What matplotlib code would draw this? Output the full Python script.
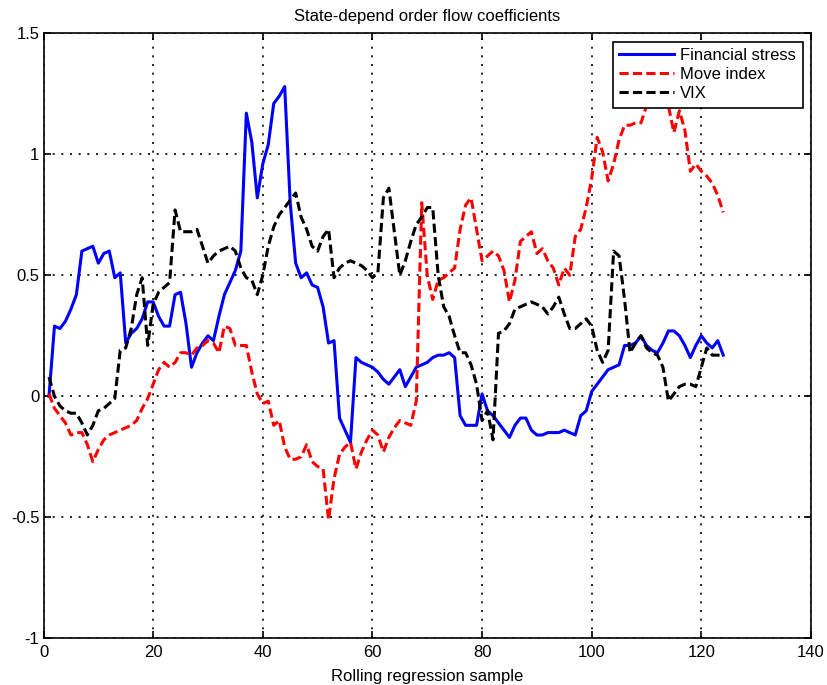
import matplotlib.pyplot as plt
import numpy as np

plt.switch_backend('Agg')
plt.rcParams['font.family'] = ['Liberation Sans', 'DejaVu Sans']

# Rolling regression sample index
sample = np.arange(1, 125)

financial_stress = [
    0.00, 0.29, 0.28, 0.31, 0.36, 0.42, 0.60, 0.61, 0.62, 0.55,
    0.59, 0.60, 0.49, 0.51, 0.22, 0.26, 0.28, 0.32, 0.39, 0.39,
    0.33, 0.29, 0.29, 0.42, 0.43, 0.30, 0.12, 0.18, 0.22, 0.25,
    0.23, 0.33, 0.42, 0.47, 0.52, 0.60, 1.17, 1.05, 0.82, 0.96,
    1.04, 1.21, 1.24, 1.28, 0.80, 0.55, 0.49, 0.51, 0.46, 0.45,
    0.37, 0.22, 0.23, -0.09, -0.14, -0.19, 0.16, 0.14, 0.13, 0.12,
    0.10, 0.07, 0.05, 0.08, 0.11, 0.04, 0.08, 0.12, 0.13, 0.14,
    0.16, 0.17, 0.17, 0.18, 0.16, -0.08, -0.12, -0.12, -0.12, 0.01,
    -0.06, -0.08, -0.11, -0.14, -0.17, -0.12, -0.09, -0.09, -0.14, -0.16,
    -0.16, -0.15, -0.15, -0.15, -0.14, -0.15, -0.16, -0.08, -0.06, 0.02,
    0.05, 0.08, 0.11, 0.12, 0.13, 0.21, 0.21, 0.22, 0.25, 0.21,
    0.19, 0.18, 0.22, 0.27, 0.27, 0.25, 0.21, 0.16, 0.21, 0.25,
    0.22, 0.20, 0.23, 0.17,
]

move_index = [
    0.01, -0.05, -0.08, -0.11, -0.16, -0.15, -0.15, -0.20, -0.27, -0.22,
    -0.18, -0.16, -0.15, -0.14, -0.13, -0.12, -0.10, -0.05, -0.01, 0.05,
    0.11, 0.14, 0.12, 0.14, 0.18, 0.18, 0.17, 0.20, 0.21, 0.23,
    0.22, 0.18, 0.29, 0.28, 0.21, 0.21, 0.21, 0.10, 0.01, -0.03,
    -0.02, -0.12, -0.10, -0.21, -0.26, -0.26, -0.25, -0.20, -0.27, -0.29,
    -0.30, -0.51, -0.34, -0.24, -0.21, -0.19, -0.30, -0.23, -0.18, -0.14,
    -0.16, -0.23, -0.17, -0.13, -0.10, -0.11, -0.12, -0.02, 0.80, 0.50,
    0.40, 0.48, 0.49, 0.51, 0.53, 0.69, 0.79, 0.82, 0.69, 0.56,
    0.58, 0.60, 0.58, 0.52, 0.39, 0.48, 0.64, 0.66, 0.68, 0.59,
    0.61, 0.56, 0.53, 0.46, 0.53, 0.50, 0.66, 0.69, 0.78, 0.90,
    1.07, 1.01, 0.89, 0.96, 1.06, 1.12, 1.12, 1.13, 1.13, 1.20,
    1.23, 1.25, 1.24, 1.20, 1.09, 1.18, 1.10, 0.93, 0.96, 0.93,
    0.91, 0.88, 0.83, 0.76,
]

vix = [
    0.08, 0.00, -0.04, -0.06, -0.07, -0.07, -0.11, -0.16, -0.12, -0.06,
    -0.05, -0.03, -0.01, 0.19, 0.20, 0.28, 0.42, 0.49, 0.21, 0.38,
    0.43, 0.45, 0.47, 0.77, 0.68, 0.68, 0.68, 0.69, 0.62, 0.55,
    0.58, 0.60, 0.61, 0.62, 0.60, 0.53, 0.49, 0.48, 0.42, 0.50,
    0.62, 0.70, 0.75, 0.78, 0.81, 0.84, 0.74, 0.69, 0.62, 0.60,
    0.66, 0.69, 0.49, 0.53, 0.55, 0.56, 0.55, 0.54, 0.52, 0.49,
    0.51, 0.82, 0.86, 0.68, 0.50, 0.56, 0.64, 0.71, 0.74, 0.78,
    0.78, 0.50, 0.37, 0.33, 0.25, 0.18, 0.18, 0.13, 0.05, -0.10,
    -0.06, -0.18, 0.26, 0.27, 0.30, 0.36, 0.37, 0.38, 0.39, 0.38,
    0.37, 0.34, 0.37, 0.41, 0.34, 0.28, 0.28, 0.30, 0.32, 0.29,
    0.19, 0.14, 0.19, 0.60, 0.58, 0.40, 0.18, 0.22, 0.25, 0.20,
    0.18, 0.17, 0.12, -0.02, 0.01, 0.04, 0.05, 0.05, 0.04, 0.12,
    0.20, 0.17, 0.17, 0.17,
]

x_ticks = [0, 20, 40, 60, 80, 100, 120, 140]
y_ticks = [-1, -0.5, 0, 0.5, 1, 1.5]
y_tick_labels = ['-1', '-0.5', '0', '0.5', '1', '1.5']

fig = plt.figure(figsize=(8.27, 6.85), dpi=100)
ax = fig.add_axes([0.0526, 0.0682, 0.928, 0.8832])

ax.plot(sample, financial_stress, '-', color='#0000ff', lw=2.2, label='Financial stress')
ax.plot(sample, move_index, '--', color='#ff0000', lw=2.2, dashes=(3, 1.4), label='Move index')
ax.plot(sample, vix, '--', color='black', lw=2.2, dashes=(3, 1.4), label='VIX')

ax.set_xlim(0, 140)
ax.set_ylim(-1, 1.5)
ax.set_xticks(x_ticks)
ax.set_yticks(y_ticks)
ax.set_yticklabels(y_tick_labels)
ax.tick_params(direction='in', top=True, right=True, labelsize=12, length=5, width=1.2)
ax.tick_params(axis='x', pad=5)
ax.tick_params(axis='y', pad=3)
for sp in ax.spines.values():
    sp.set_linewidth(1.2)

ax.grid(True, color='black', lw=1.2, linestyle=(0, (1.2, 4)))

ax.set_title('State-depend order flow coefficients', fontsize=12, pad=9)
ax.set_xlabel('Rolling regression sample', fontsize=12, labelpad=6)

leg = ax.legend(loc='upper right', fontsize=12, handlelength=3.3, fancybox=False,
                framealpha=1, edgecolor='black', borderpad=0.38, labelspacing=0.25,
                handletextpad=0.36, borderaxespad=0.5)
leg.get_frame().set_linewidth(1.2)

fig.savefig('out.png', dpi=100)
plt.close(fig)
